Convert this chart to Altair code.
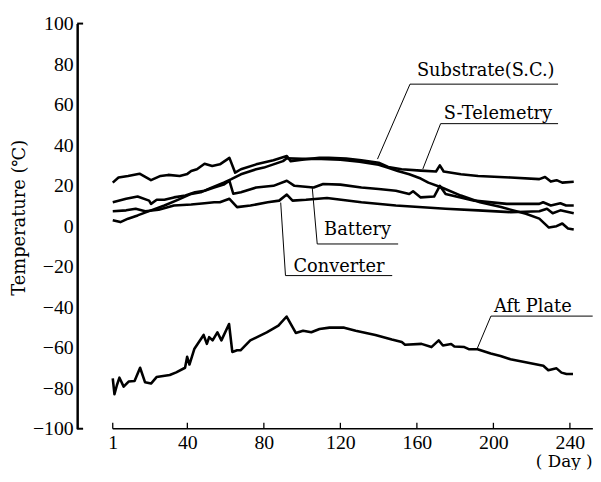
import altair as alt
import pandas as pd

# ---------------- data ----------------
tel_day = [1, 4, 9, 15, 21, 26, 30, 36, 40, 42, 45, 49, 53, 57, 62, 65, 68, 76, 85, 92, 94, 102,
           109, 114, 123, 131, 140, 145, 152, 162, 170, 172, 174, 183, 192, 209, 224, 227, 230,
           233, 236, 242]
tel_val = [21.5, 24, 24.8, 25.9, 22.7, 24.8, 25.3, 24.8, 25.8, 27.2, 28.1, 30.8, 29.7, 30.5,
           33.7, 26.4, 28.1, 30.5, 32.5, 34.6, 32.1, 33, 33.7, 33.7, 33.4, 32.5, 31.3, 29.2,
           28.1, 27.4, 27, 30, 27, 25.6, 24.8, 24, 23.2, 24.3, 22, 22.7, 21.5, 21.9]

sub_day = [1, 5, 9, 14, 21, 28, 35, 42, 47, 52, 59, 63, 68, 76, 80, 85, 90, 92, 100, 110, 120,
           130, 140, 145, 150, 156, 162, 166, 173, 183, 193, 204, 217, 224, 229, 233, 236, 239, 242]
sub_val = [2.9, 2.0, 3.7, 5.3, 7.8, 10.2, 13, 15.9, 16.7, 18.8, 21.5, 23.2, 25.6, 28.1, 28.9,
           30.5, 32.1, 33.5, 33.2, 33.2, 32.8, 31.8, 30.3, 28.8, 27.2, 25.6, 23.5, 21.5, 19.1,
           15.1, 11.8, 9.4, 6.1, 3.7, -0.7, 0, 1.3, -1.2, -1.7]

bat_day = [1, 8, 14, 20, 21, 24, 28, 33, 39, 44, 49, 54, 59, 62, 64, 68, 76, 85, 92, 96, 106,
           111, 120, 131, 140, 149, 156, 158, 162, 169, 172, 175, 190, 207, 224, 226, 230, 235,
           238, 242]
bat_val = [11.8, 13.5, 14.6, 12.6, 11, 13, 13, 14.2, 15.1, 16.7, 17.5, 19.1, 20.5, 22.4, 16,
           16.7, 19.1, 19.9, 22.4, 19.9, 19.1, 20.8, 20.5, 19.1, 18.3, 17.5, 15.9, 17.2, 14.2,
           14.6, 19.9, 15.9, 12.6, 11, 11, 11.8, 10.2, 11.3, 10.2, 10.2]

con_day = [1, 8, 13, 18, 25, 33, 42, 49, 54, 57, 62, 66, 73, 82, 88, 92, 95, 102, 113, 131,
           149, 175, 192, 209, 224, 228, 231, 235, 242]
con_val = [7.4, 7.8, 8.6, 7.4, 8.1, 10.2, 10.7, 11.3, 11.8, 11.8, 13.5, 9.4, 10.2, 11.8, 12.6,
           15.6, 12.6, 13.0, 13.9, 11.8, 10.2, 8.6, 7.8, 6.9, 7.4, 8.6, 6.4, 7.8, 6.4]

aft_day = [1, 1.9, 3.2, 4.5, 6.7, 9.3, 12.4, 15.3, 17.9, 21, 23.9, 30.8, 34.2, 38.8, 39.9, 41.1,
           43.7, 48.5, 50.2, 51.4, 53.2, 55.7, 57.8, 61.8, 63.5, 66, 67.8, 72.9, 81.5, 87.6,
           91.9, 96.7, 100.5, 104.8, 109.1, 114.3, 122, 128, 138.3, 146.9, 152.1, 153.8, 162.4,
           167.6, 171.4, 173.6, 177.9, 179.6, 184.8, 187.4, 191.7, 198.6, 203.7, 208.9, 217.5,
           226.1, 228.7, 233, 235.6, 238.2, 241.6]
aft_val = [-75.1, -83, -78.4, -74.8, -79.2, -76.7, -76.4, -69.9, -77.1, -77.7, -74.5, -73.5,
           -72.2, -69.9, -64.5, -68.3, -60.5, -53.7, -58.1, -54.8, -56.4, -52.4, -56.4, -48.3,
           -62.1, -61.3, -61.3, -56.4, -52.4, -49.1, -44.6, -52.7, -51.6, -52.4, -50.8, -50.1,
           -50.1, -51.6, -53.7, -56.0, -57.2, -58.5, -58.1, -59.7, -56.4, -58.9, -58.2, -59.4,
           -59.7, -60.8, -60.8, -62.9, -64.1, -65.7, -67.3, -68.9, -71.1, -70.2, -72.3, -73.0,
           -73.0]

# annotation labels: text anchor, underline and leader line (in data units)
lab_text = ["Substrate(S.C.)", "S-Telemetry", "Battery", "Converter", "Aft Plate"]
lab_x = [160, 174, 111.5, 95.5, 200.3]
lab_y = [76.5, 55.5, -2.0, -20.0, -40.0]
ul_y = [70.1, 50.6, -8.8, -24.4, -44.4]
ul_x1 = [156.4, 172.4, 107.9, 91.3, 198.7]
ul_x2 = [233.8, 233.8, 150.2, 147.1, 251.9]
lead_x = [139.4, 163.1, 105.3, 88.8, 191.5]
lead_y = [33.1, 28.2, 19.0, 11.65, -60.5]

x_ticks = [1, 40, 80, 120, 160, 200, 240]
y_ticks = [-100, -80, -60, -40, -20, 0, 20, 40, 60, 80, 100]
x_axis_span = [1, 252]

# ---------------- tables ----------------
rows = []
for name, ds, vs in [("S-Telemetry", tel_day, tel_val), ("Substrate", sub_day, sub_val),
                     ("Battery", bat_day, bat_val), ("Converter", con_day, con_val),
                     ("Aft Plate", aft_day, aft_val)]:
    for i, (d, v) in enumerate(zip(ds, vs)):
        rows.append({"series": name, "day": d, "temp": v, "order": i})
df = pd.DataFrame(rows)

lab = pd.DataFrame({"text": lab_text, "x": lab_x, "y": lab_y, "uy": ul_y,
                    "ux1": ul_x1, "ux2": ul_x2, "lx": lead_x, "ly": lead_y})
ticks_df = pd.DataFrame({"day": x_ticks})
feet_df = pd.DataFrame({"v": [-100, 100]})
xline_df = pd.DataFrame({"d1": [x_axis_span[0]], "d2": [x_axis_span[1]], "v": [-100]})

W = 518
H = 410
SERIF = "Liberation Serif"
SERIF2 = "DejaVu Serif"

xscale = alt.Scale(domain=[-17.6, 250], nice=False, zero=False)
yscale = alt.Scale(domain=[-100, 100], nice=False)

x_axis = alt.Axis(values=x_ticks, ticks=False, tickSize=0, labelPadding=4, grid=False,
                  domain=False, labelFont=SERIF, labelFontSize=20, labelColor="#000",
                  labelFlush=False,
                  title="( Day )", titleFont=SERIF2, titleFontSize=17, titleFontWeight="normal",
                  titleColor="#000", titleX=521, titleY=33, titleAlign="right",
                  titleAnchor="end", titleBaseline="middle")
y_axis = alt.Axis(values=y_ticks, ticks=False, tickSize=0, labelPadding=4, grid=False,
                  domainColor="#000", domainWidth=2.5, labelFont=SERIF, labelFontSize=20,
                  labelColor="#000", labelFlush=False,
                  title="Temperature (℃)", titleFont=SERIF2, titleFontSize=18,
                  titleFontWeight="normal", titleColor="#000", titleAngle=270,
                  titleX=-58, titleY=196, titleAlign="center", titleBaseline="middle")

lines = alt.Chart(df).mark_line(color="#000", strokeWidth=2.6, strokeJoin="round").encode(
    x=alt.X("day:Q", scale=xscale, axis=x_axis),
    y=alt.Y("temp:Q", scale=yscale, axis=y_axis),
    detail="series:N",
    order="order:Q",
)

xline = alt.Chart(xline_df).mark_rule(color="#000", strokeWidth=1.5).encode(
    x=alt.X("d1:Q", scale=xscale), x2="d2:Q", y=alt.Y("v:Q", scale=yscale))

xticks = alt.Chart(ticks_df).mark_rule(color="#000", strokeWidth=1.3).encode(
    x=alt.X("day:Q", scale=xscale),
    y=alt.value(H),
    y2=alt.value(H - 6),
)

feet = alt.Chart(feet_df).mark_rule(color="#000", strokeWidth=2).encode(
    y=alt.Y("v:Q", scale=yscale),
    x=alt.value(0),
    x2=alt.value(6),
)

texts = alt.Chart(lab).mark_text(align="left", baseline="middle", font=SERIF2,
                                 fontSize=18, color="#000").encode(
    x=alt.X("x:Q", scale=xscale), y=alt.Y("y:Q", scale=yscale), text="text:N")

underline = alt.Chart(lab).mark_rule(color="#000", strokeWidth=1.0).encode(
    x=alt.X("ux1:Q", scale=xscale), x2="ux2:Q", y=alt.Y("uy:Q", scale=yscale))

leader = alt.Chart(lab).mark_rule(color="#000", strokeWidth=1.0).encode(
    x=alt.X("ux1:Q", scale=xscale), x2="lx:Q",
    y=alt.Y("uy:Q", scale=yscale), y2="ly:Q")

chart = alt.layer(lines, xline, xticks, feet, underline, leader, texts).properties(
    width=W, height=H,
    background="#ffffff",
    autosize=alt.AutoSizeParams(type="none"),
    padding={"left": 70, "top": 13, "right": 4, "bottom": 39},
).configure_view(stroke=None)

chart.save("out.html", embed_options={"renderer": "svg", "actions": False})
